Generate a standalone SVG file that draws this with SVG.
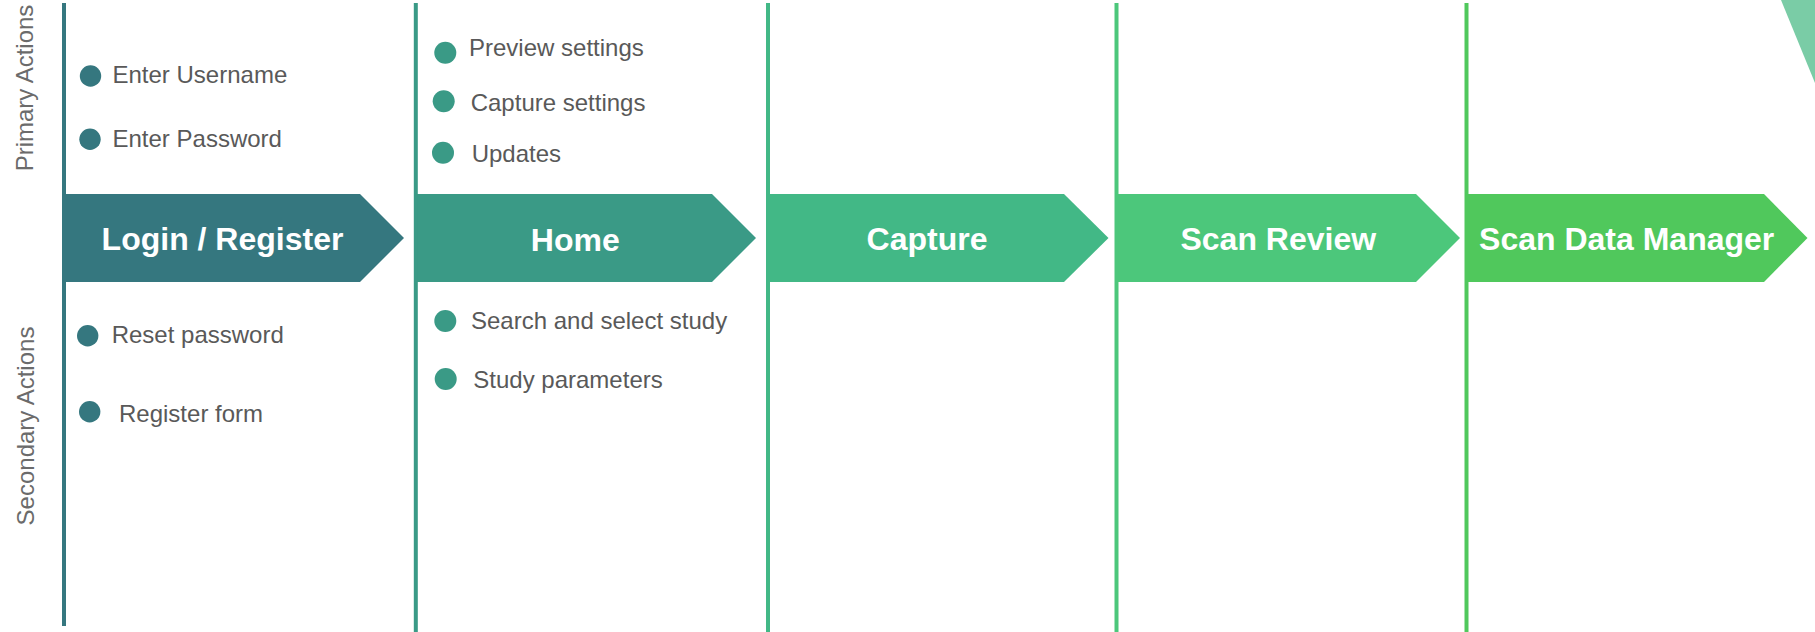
<svg xmlns="http://www.w3.org/2000/svg" width="1815" height="632" viewBox="0 0 1815 632">
  <style>
    .lbl { font-family: "Liberation Sans", Arial, sans-serif; font-size: 24px; fill: #595959; }
    .side { font-family: "Liberation Sans", Arial, sans-serif; font-size: 24px; fill: #6b6b6b; text-anchor: middle; }
    .title { font-family: "Liberation Sans", Arial, sans-serif; font-size: 32px; font-weight: bold; fill: #ffffff; text-anchor: middle; }
    .c1 { fill: #35777f; }
    .c2 { fill: #3a9a86; }
    .c3 { fill: #42b886; }
    .c4 { fill: #4cc77b; }
    .c5 { fill: #50c85c; }
  </style>
  <rect width="1815" height="632" fill="#ffffff"/>
  <polygon points="1781,0 1815,0 1815,83" fill="#7acca6"/>

  <g id="row-labels">
    <text class="side" transform="translate(33,88) rotate(-90)">Primary Actions</text>
    <text class="side" transform="translate(34,426) rotate(-90)">Secondary Actions</text>
  </g>

  <g id="login">
    <polygon class="c1" points="64,194 360,194 404,238 360,282 64,282"/>
    <rect class="c1" x="62" y="3" width="4" height="623"/>
    <text class="title" x="222.5" y="250">Login / Register</text>
    <circle class="c1" cx="90.5" cy="76" r="10.7"/>
    <text class="lbl" x="112.5" y="83">Enter Username</text>
    <circle class="c1" cx="90" cy="139.3" r="10.7"/>
    <text class="lbl" x="112.5" y="146.7">Enter Password</text>
    <circle class="c1" cx="87.7" cy="335.7" r="10.7"/>
    <text class="lbl" x="111.7" y="342.7">Reset password</text>
    <circle class="c1" cx="89.7" cy="411.7" r="10.7"/>
    <text class="lbl" x="119" y="421.7">Register form</text>
  </g>

  <g id="home">
    <polygon class="c2" points="416,194 712,194 756,238 712,282 416,282"/>
    <rect class="c2" x="413.8" y="3" width="4" height="629"/>
    <text class="title" x="575.3" y="250.5">Home</text>
    <circle class="c2" cx="445.3" cy="52.7" r="11"/>
    <text class="lbl" x="469" y="56">Preview settings</text>
    <circle class="c2" cx="443.7" cy="101.3" r="11"/>
    <text class="lbl" x="470.7" y="110.7">Capture settings</text>
    <circle class="c2" cx="443" cy="152.7" r="11"/>
    <text class="lbl" x="471.7" y="162">Updates</text>
    <circle class="c2" cx="445.3" cy="321" r="11"/>
    <text class="lbl" x="471" y="329">Search and select study</text>
    <circle class="c2" cx="445.7" cy="379" r="11"/>
    <text class="lbl" x="473.3" y="388.3">Study parameters</text>
  </g>

  <g id="capture">
    <polygon class="c3" points="768,194 1064,194 1108.5,238 1064,282 768,282"/>
    <rect class="c3" x="766" y="3" width="4" height="629"/>
    <text class="title" x="927" y="250">Capture</text>
  </g>

  <g id="scan-review">
    <polygon class="c4" points="1118,194 1416,194 1460,238 1416,282 1118,282"/>
    <rect class="c4" x="1114.5" y="3" width="4" height="629"/>
    <text class="title" x="1278.3" y="250">Scan Review</text>
  </g>

  <g id="scan-data-manager">
    <polygon class="c5" points="1467,194 1764,194 1807.5,238 1764,282 1467,282"/>
    <rect class="c5" x="1464.5" y="3" width="4" height="629"/>
    <text class="title" x="1626.7" y="250">Scan Data Manager</text>
  </g>

  <g id="connectors"></g>
</svg>
